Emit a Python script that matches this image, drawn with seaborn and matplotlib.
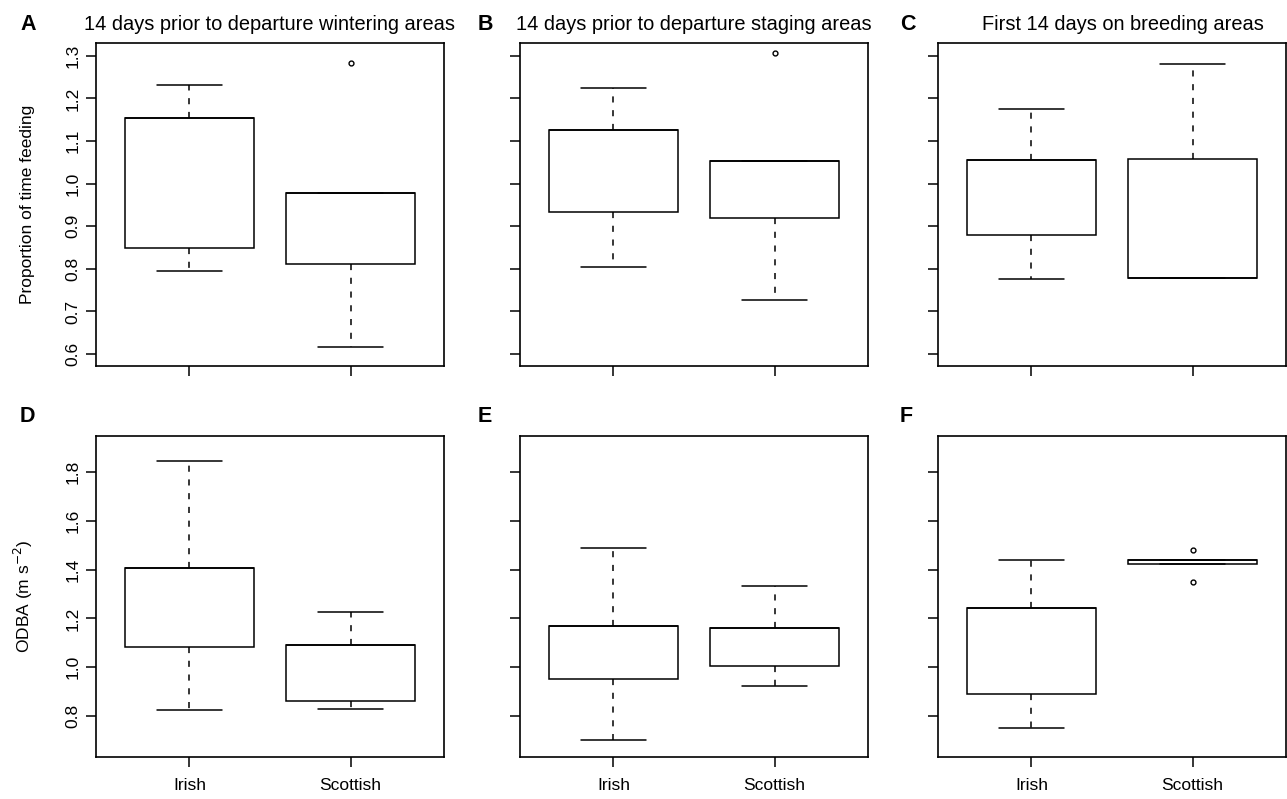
#%%
# Feeding / ODBA boxplots, Irish vs Scottish birds
import numpy as np
import pandas as pd
import seaborn as sns
import matplotlib.pyplot as plt

#%%
# values
# each box: [lower whisker, Q1, median, Q3, upper whisker], order Irish, Scottish
groups = ["Irish", "Scottish"]

feed_winter = [[0.796, 0.850, 1.154, 1.154, 1.232], [0.617, 0.812, 0.979, 0.979, 0.979]]
feed_staging = [[0.805, 0.933, 1.125, 1.125, 1.224], [0.727, 0.920, 1.053, 1.053, 1.053]]
feed_breeding = [[0.777, 0.879, 1.056, 1.056, 1.176], [0.778, 0.778, 0.778, 1.058, 1.281]]
odba_winter = [[0.825, 1.084, 1.405, 1.405, 1.846], [0.827, 0.863, 1.091, 1.091, 1.225]]
odba_staging = [[0.700, 0.950, 1.170, 1.170, 1.490], [0.925, 1.005, 1.160, 1.160, 1.335]]
odba_breeding = [[0.752, 0.891, 1.241, 1.241, 1.438], [1.422, 1.422, 1.439, 1.439, 1.439]]

# outliers per box
feed_winter_out = [[], [1.283]]
feed_staging_out = [[], [1.306]]
feed_breeding_out = [[], []]
odba_winter_out = [[], []]
odba_staging_out = [[], []]
odba_breeding_out = [[], [1.350, 1.480]]

titles = ["14 days prior to departure wintering areas",
          "14 days prior to departure staging areas",
          "First 14 days on breeding areas"]
letters = ["A", "B", "C", "D", "E", "F"]

feed_ticks = [0.6, 0.7, 0.8, 0.9, 1.0, 1.1, 1.2, 1.3]
odba_ticks = [0.8, 1.0, 1.2, 1.4, 1.6, 1.8]


#%%
def make_table(stats, outs):
    # 9 points per group so numpy's quartiles land on Q1 / median / Q3
    rows = []
    for g, s, o in zip(groups, stats, outs):
        lo, q1, med, q3, hi = s
        lo_ext = min([v for v in o if v < q1], default=lo)
        hi_ext = max([v for v in o if v > q3], default=hi)
        for v in [lo_ext, lo, q1, med, med, med, q3, hi, hi_ext]:
            rows.append({"group": g, "value": v})
    return pd.DataFrame(rows)


sns.set_style("ticks")
plt.rcParams['font.family'] = ['Liberation Sans', 'DejaVu Sans']
plt.rcParams['axes.linewidth'] = 1.2
plt.rcParams['axes.edgecolor'] = 'black'
plt.rcParams['text.color'] = 'black'
plt.rcParams['axes.labelcolor'] = 'black'
plt.rcParams['xtick.color'] = 'black'
plt.rcParams['ytick.color'] = 'black'
plt.rcParams['xtick.major.size'] = 7
plt.rcParams['ytick.major.size'] = 7
plt.rcParams['xtick.major.width'] = 1.1
plt.rcParams['ytick.major.width'] = 1.1

fig = plt.figure(figsize=(12.87, 7.99), dpi=100)
W, H = 1287, 799
lefts = [96, 520, 938]
rows_px = [(43, 366), (436, 757)]

panels = [
    (feed_winter, feed_winter_out), (feed_staging, feed_staging_out),
    (feed_breeding, feed_breeding_out), (odba_winter, odba_winter_out),
    (odba_staging, odba_staging_out), (odba_breeding, odba_breeding_out),
]

for i, (stats, outs) in enumerate(panels):
    r, c = divmod(i, 3)
    top, bot = rows_px[r]
    ax = fig.add_axes([lefts[c] / W, 1 - bot / H, 348 / W, (bot - top) / H])
    df = make_table(stats, outs)
    sns.boxplot(data=df, x="group", y="value", ax=ax, width=0.8,
                color="white", linecolor="black", linewidth=1.1, whis=1.5,
                whiskerprops=dict(linestyle=(0, (4, 5))),
                medianprops=dict(linewidth=1.2),
                flierprops=dict(marker='o', markersize=3.5, markerfacecolor='white',
                                markeredgecolor='black', markeredgewidth=1))
    for s in ax.spines.values():
        s.set_visible(True)
    ax.set_xlim(-0.58, 1.58)
    ax.set_xlabel("")
    if r == 0:
        ax.set_ylim(0.572, 1.330)
        ax.set_yticks(feed_ticks)
        ax.set_xticks([0, 1])
        ax.set_xticklabels(["", ""])
        tx = 0.53 if c == 2 else 0.5
        ax.set_title(titles[c], fontsize=14.4, pad=9, x=tx)
    else:
        ax.set_ylim(0.632, 1.948)
        ax.set_yticks(odba_ticks)
        ax.set_xticks([0, 1])
        ax.set_xticklabels(groups, fontsize=12.5)
    ax.tick_params(axis='x', pad=8)
    if c == 0:
        ax.set_yticklabels(["%.1f" % t for t in ax.get_yticks()], rotation=90,
                           va='center', fontsize=12.5)
        ax.tick_params(axis='y', pad=4)
    else:
        ax.set_yticklabels([])
    if c == 0 and r == 0:
        ax.set_ylabel("Proportion of time feeding", fontsize=12.5)
        ax.yaxis.set_label_coords(-0.175, 0.5)
    elif c == 0 and r == 1:
        ax.set_ylabel("ODBA (m s$^{-2}$)", fontsize=12.5)
        ax.yaxis.set_label_coords(-0.175, 0.5)
    else:
        ax.set_ylabel("")

# panel letters
letter_x = [20, 478, 900]
letter_y = [30, 422]
for i, L in enumerate(letters):
    r, c = divmod(i, 3)
    fig.text(letter_x[c] / W, 1 - letter_y[r] / H, L, fontsize=15.5,
             fontweight='bold', ha='left', va='baseline')

fig.savefig("out.png", dpi=100)
